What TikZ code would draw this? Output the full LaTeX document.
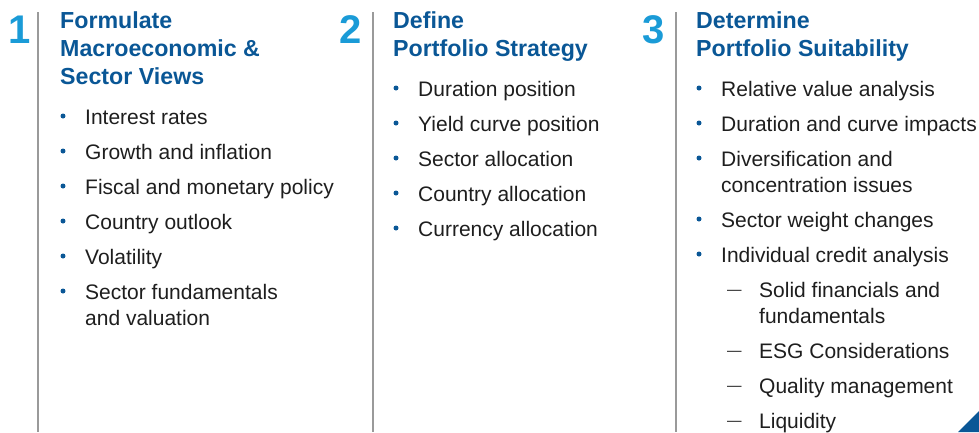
\documentclass[tikz,border=0pt]{standalone}
\usepackage{fontspec}
\setmainfont{Liberation Sans}
\definecolor{headblue}{HTML}{0A5796}
\definecolor{numblue}{HTML}{1A9BD7}
\definecolor{rulegray}{HTML}{9A9A9A}
\definecolor{bodytext}{HTML}{1E1E1E}
\tikzset{
  num/.style={anchor=base, inner sep=0pt, text=numblue, font=\fontsize{40}{40}\selectfont\bfseries},
  head/.style={anchor=base west, inner sep=0pt, text=headblue, align=left, font=\fontsize{23.2}{28}\selectfont\bfseries},
  item/.style={anchor=base west, inner sep=0pt, text=bodytext, font=\fontsize{21}{26}\selectfont},
  dot/.style={circle, fill=headblue, inner sep=0pt, minimum size=5pt},
  dashmark/.style={anchor=base west, inner sep=0pt, text=bodytext, font=\fontsize{14.5}{14.5}\selectfont},
  sep/.style={draw=rulegray, line width=2pt},
}
\begin{document}
\begin{tikzpicture}[x=1pt,y=-1pt]
\useasboundingbox (0,0) rectangle (979,432);
% numbers
\node[num] (n1) at (19.5,43) {1};
\node[num] (n2) at (351,43) {2};
\node[num] (n3) at (654,43) {3};
% separators
\coordinate (s1t) at (38,12); \coordinate (s1b) at (38,432);
\coordinate (s2t) at (373,12); \coordinate (s2b) at (373,432);
\coordinate (s3t) at (676,12); \coordinate (s3b) at (676,432);
\draw[sep] (s1t) -- (s1b);
\draw[sep] (s2t) -- (s2b);
\draw[sep] (s3t) -- (s3b);
% headings
\node[head] (h1a) at (60,28) {Formulate};
\node[head] (h1b) at (60,56) {Macroeconomic \&};
\node[head] (h1c) at (60,84) {Sector Views};
\node[head] (h2a) at (393,28) {Define};
\node[head] (h2b) at (393,56) {Portfolio Strategy};
\node[head] (h3a) at (696,28) {Determine};
\node[head] (h3b) at (696,56) {Portfolio Suitability};
% column 1
\foreach \y/\t [count=\i] in {124/Interest rates, 159/Growth and inflation, 194/Fiscal and monetary policy, 229/Country outlook, 264/Volatility, 299/Sector fundamentals}{
  \node[dot] (d1\i) at (63,\y-8) {};
  \node[item] (t1\i) at (85,\y) {\t};
}
\node[item] (t1x) at (85,325) {and valuation};
% column 2
\foreach \y/\t [count=\i] in {96/Duration position, 131/Yield curve position, 166/Sector allocation, 201/Country allocation, 236/Currency allocation}{
  \node[dot] (d2\i) at (396,\y-8) {};
  \node[item] (t2\i) at (418,\y) {\t};
}
% column 3
\foreach \y/\t [count=\i] in {96/Relative value analysis, 131/Duration and curve impacts, 166/Diversification and, 227/Sector weight changes, 262/Individual credit analysis}{
  \node[dot] (d3\i) at (699,\y-8) {};
  \node[item] (t3\i) at (721,\y) {\t};
}
\node[item] (t3x) at (721,192) {concentration issues};
\foreach \y/\t [count=\i] in {297/Solid financials and, 358/ESG Considerations, 393/Quality management, 428/Liquidity}{
  \node[dashmark] (m\i) at (727,\y) {\raisebox{2.6pt}{—}};
  \node[item] (u\i) at (759,\y) {\t};
}
\node[item] (ux) at (759,323) {fundamentals};
% corner triangle
\fill[headblue] (958,432) -- (979,411) -- (979,432) -- cycle;
\end{tikzpicture}
\end{document}
